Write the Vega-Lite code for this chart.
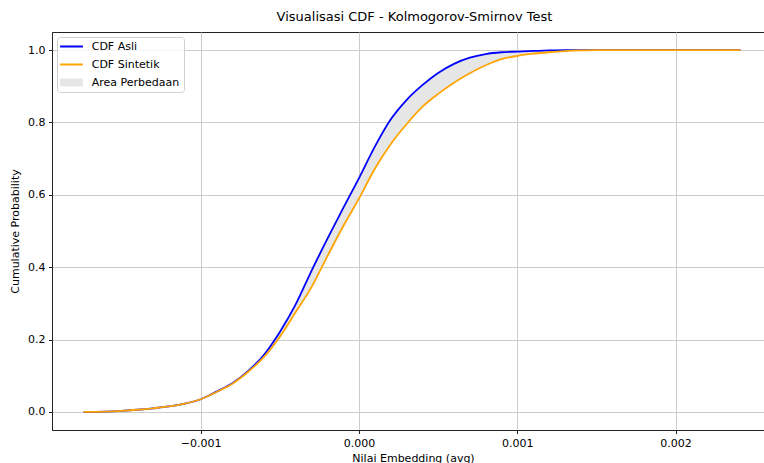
{
  "$schema": "https://vega.github.io/schema/vega-lite/v6.json",
  "width": 713,
  "height": 398,
  "autosize": {"type": "none"},
  "padding": {"left": 52, "top": 32, "right": 0, "bottom": 33},
  "title": {"text": "Visualisasi CDF - Kolmogorov-Smirnov Test", "fontSize": 13, "fontWeight": "normal", "font": "DejaVu Sans", "color": "#000", "offset": 8, "anchor": "middle", "frame": "group", "dx": 6},
  "config": {
    "font": "DejaVu Sans",
    "view": {"stroke": "#222", "strokeWidth": 1},
    "axis": {
      "domainColor": "#222", "domainWidth": 1,
      "tickColor": "#222", "tickSize": 3.5, "tickWidth": 1,
      "labelFontSize": 11, "labelColor": "#000", "labelPadding": 3.5, "labelFont": "DejaVu Sans",
      "titleFontSize": 11, "titleFontWeight": "normal", "titleColor": "#000", "titleFont": "DejaVu Sans",
      "gridColor": "#cccccc", "gridWidth": 1
    },
    "legend": {
      "title": null, "orient": "none", "legendX": 5, "legendY": 5,
      "padding": 4, "fillColor": "rgba(255,255,255,0.8)", "strokeColor": "#d0d0d0", "cornerRadius": 3,
      "symbolSize": 144, "symbolOffset": 5, "labelOffset": 14.7, "rowPadding": 6,
      "labelFontSize": 11, "labelColor": "#000", "labelFont": "DejaVu Sans"
    }
  },
  "data": {"values": [
    {"x": -0.00174, "CDF Asli": 0.000, "CDF Sintetik": 0.000},
    {"x": -0.0016, "CDF Asli": 0.001, "CDF Sintetik": 0.001},
    {"x": -0.0015, "CDF Asli": 0.003, "CDF Sintetik": 0.003},
    {"x": -0.0014, "CDF Asli": 0.006, "CDF Sintetik": 0.006},
    {"x": -0.0013, "CDF Asli": 0.010, "CDF Sintetik": 0.010},
    {"x": -0.0012, "CDF Asli": 0.015, "CDF Sintetik": 0.015},
    {"x": -0.0011, "CDF Asli": 0.023, "CDF Sintetik": 0.023},
    {"x": -0.0010, "CDF Asli": 0.035, "CDF Sintetik": 0.035},
    {"x": -0.0009, "CDF Asli": 0.056, "CDF Sintetik": 0.055},
    {"x": -0.0008, "CDF Asli": 0.079, "CDF Sintetik": 0.078},
    {"x": -0.0007, "CDF Asli": 0.113, "CDF Sintetik": 0.111},
    {"x": -0.0006, "CDF Asli": 0.158, "CDF Sintetik": 0.152},
    {"x": -0.0005, "CDF Asli": 0.221, "CDF Sintetik": 0.208},
    {"x": -0.0004, "CDF Asli": 0.297, "CDF Sintetik": 0.276},
    {"x": -0.0003, "CDF Asli": 0.390, "CDF Sintetik": 0.345},
    {"x": -0.0002, "CDF Asli": 0.478, "CDF Sintetik": 0.430},
    {"x": -0.0001, "CDF Asli": 0.563, "CDF Sintetik": 0.513},
    {"x": 0.0000, "CDF Asli": 0.646, "CDF Sintetik": 0.590},
    {"x": 0.0001, "CDF Asli": 0.733, "CDF Sintetik": 0.672},
    {"x": 0.0002, "CDF Asli": 0.808, "CDF Sintetik": 0.740},
    {"x": 0.0003, "CDF Asli": 0.862, "CDF Sintetik": 0.795},
    {"x": 0.0004, "CDF Asli": 0.903, "CDF Sintetik": 0.843},
    {"x": 0.0005, "CDF Asli": 0.937, "CDF Sintetik": 0.879},
    {"x": 0.0006, "CDF Asli": 0.962, "CDF Sintetik": 0.910},
    {"x": 0.0007, "CDF Asli": 0.979, "CDF Sintetik": 0.936},
    {"x": 0.0008, "CDF Asli": 0.989, "CDF Sintetik": 0.958},
    {"x": 0.0009, "CDF Asli": 0.994, "CDF Sintetik": 0.975},
    {"x": 0.0010, "CDF Asli": 0.996, "CDF Sintetik": 0.984},
    {"x": 0.0011, "CDF Asli": 0.998, "CDF Sintetik": 0.990},
    {"x": 0.0012, "CDF Asli": 0.999, "CDF Sintetik": 0.994},
    {"x": 0.0013, "CDF Asli": 1.000, "CDF Sintetik": 0.997},
    {"x": 0.0014, "CDF Asli": 1.000, "CDF Sintetik": 0.999},
    {"x": 0.0015, "CDF Asli": 1.000, "CDF Sintetik": 1.000},
    {"x": 0.0018, "CDF Asli": 1.000, "CDF Sintetik": 1.000},
    {"x": 0.0021, "CDF Asli": 1.000, "CDF Sintetik": 1.000},
    {"x": 0.00241, "CDF Asli": 1.000, "CDF Sintetik": 1.000}
  ]},
  "layer": [
    {
      "mark": {"type": "area", "interpolate": "monotone", "opacity": 1},
      "encoding": {
        "x": {"field": "x", "type": "quantitative",
          "scale": {"domain": [-0.0019394, 0.0025648], "nice": false, "zero": false},
          "axis": {"values": [-0.001, 0, 0.001, 0.002], "format": ".3f", "title": "Nilai Embedding (avg)", "titlePadding": 4, "titleX": 361}},
        "y": {"field": "CDF Asli", "type": "quantitative",
          "scale": {"domain": [-0.05, 1.05], "nice": false, "zero": false},
          "axis": {"values": [0, 0.2, 0.4, 0.6, 0.8, 1.0], "format": ".1f", "title": "Cumulative Probability", "titlePadding": 7}},
        "y2": {"field": "CDF Sintetik"},
        "color": {"datum": "Area Perbedaan", "type": "nominal",
          "scale": {"domain": ["CDF Asli", "CDF Sintetik", "Area Perbedaan"], "range": ["#0000ff", "#ffa500", "#e6e6e6"]},
          "legend": {
            "title": null,
            "encode": {"symbols": {"update": {
              "shape": {"signal": "datum.value === 'Area Perbedaan' ? 'M-1.9,-0.65H1.9V0.65H-1.9Z' : 'M-1.9,0H1.9'"},
              "fill": {"signal": "datum.value === 'Area Perbedaan' ? '#e6e6e6' : 'transparent'"},
              "stroke": {"signal": "datum.value === 'CDF Asli' ? '#0000ff' : (datum.value === 'CDF Sintetik' ? '#ffa500' : '#e6e6e6')"},
              "strokeWidth": {"signal": "datum.value === 'Area Perbedaan' ? 0 : 2"},
              "size": {"value": 144},
              "opacity": {"value": 1}
            }}}
          }}
      }
    },
    {
      "transform": [{"fold": ["CDF Asli", "CDF Sintetik"], "as": ["seri", "nilai"]}],
      "mark": {"type": "line", "interpolate": "monotone", "strokeWidth": 1.8},
      "encoding": {
        "x": {"field": "x", "type": "quantitative"},
        "y": {"field": "nilai", "type": "quantitative"},
        "color": {"field": "seri", "type": "nominal",
          "legend": {
            "title": null,
            "encode": {"symbols": {"update": {
              "shape": {"signal": "datum.value === 'Area Perbedaan' ? 'M-1.9,-0.65H1.9V0.65H-1.9Z' : 'M-1.9,0H1.9'"},
              "fill": {"signal": "datum.value === 'Area Perbedaan' ? '#e6e6e6' : 'transparent'"},
              "stroke": {"signal": "datum.value === 'CDF Asli' ? '#0000ff' : (datum.value === 'CDF Sintetik' ? '#ffa500' : '#e6e6e6')"},
              "strokeWidth": {"signal": "datum.value === 'Area Perbedaan' ? 0 : 2"},
              "size": {"value": 144},
              "opacity": {"value": 1}
            }}}
          }}
      }
    }
  ]
}
